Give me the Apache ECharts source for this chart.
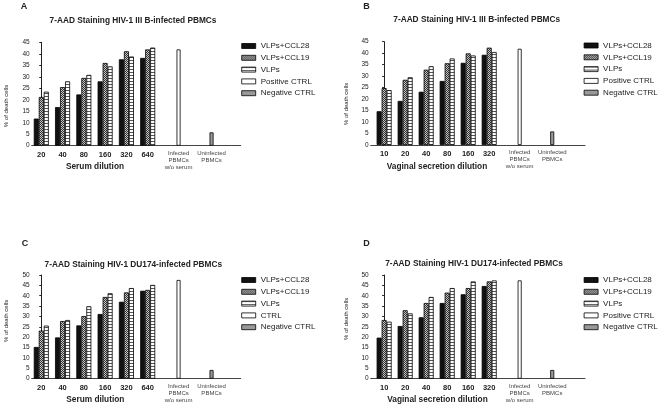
<!DOCTYPE html>
<html><head><meta charset="utf-8">
<script src="https://cdn.jsdelivr.net/npm/echarts@6/dist/echarts.min.js"></script>
<style>html,body{margin:0;padding:0;background:#fff}#c{width:661px;height:408px}</style>
</head><body><div id="c"></div>
<script>
// ---------- data ----------
const serumDilutions = ['20', '40', '80', '160', '320', '640'];
const vaginalDilutions = ['10', '20', '40', '80', '160', '320'];
const controlLabels = ['Infected\nPBMCs\nw/o serum', 'Uninfected\nPBMCs'];
const namesABD = ['VLPs+CCL28', 'VLPs+CCL19', 'VLPs', 'Positive CTRL', 'Negative CTRL'];
const namesC = ['VLPs+CCL28', 'VLPs+CCL19', 'VLPs', 'CTRL', 'Negative CTRL'];
const titleIIIB = '7-AAD Staining HIV-1 III B-infected PBMCs';
const titleDU174 = '7-AAD Staining HIV-1 DU174-infected PBMCs';
const xNameSerum = 'Serum dilution';
const xNameVaginal = 'Vaginal secretion dilution';
const yName = '% of death cells';

const aCCL28 = [11.8, 16.8, 22.3, 28.0, 37.6, 38.2];
const aCCL19 = [21.2, 25.5, 29.5, 36.0, 41.1, 41.9];
const aVLPs  = [23.5, 28.0, 30.8, 34.5, 38.8, 42.7];
const aPos = 41.9, aNeg = 5.8;

const bCCL28 = [14.7, 19.2, 23.2, 27.9, 35.8, 39.3];
const bCCL19 = [24.8, 28.4, 32.8, 35.6, 39.9, 42.4];
const bVLPs  = [23.9, 29.5, 34.3, 37.7, 39.0, 40.5];
const bPos = 41.9, bNeg = 5.9;

const cCCL28 = [15.3, 19.9, 25.7, 31.2, 37.1, 42.4];
const cCCL19 = [23.2, 27.8, 30.2, 39.4, 41.6, 42.8];
const cVLPs  = [25.6, 28.3, 34.9, 41.2, 43.7, 45.2];
const cPos = 47.6, cNeg = 4.2;

const dCCL28 = [19.8, 25.4, 29.6, 36.5, 40.7, 44.7];
const dCCL19 = [28.3, 33.0, 36.5, 41.5, 43.7, 46.9];
const dVLPs  = [27.5, 31.5, 39.4, 43.7, 46.9, 47.4];
const dPos = 47.4, dNeg = 4.2;

// ---------- layout / style ----------
const FONT = 'Liberation Sans, Arial, Helvetica, sans-serif';
const ctrlX = [6.45, 8.0];

function pattern(w, h, draw) {
  const c = document.createElement('canvas');
  c.width = w; c.height = h;
  draw(c.getContext('2d'));
  return { image: c, repeat: 'repeat' };
}
const checker = pattern(2, 2, ctx => {
  ctx.fillStyle = '#c8c8c8'; ctx.fillRect(0, 0, 2, 2);
  ctx.fillStyle = '#333'; ctx.fillRect(0, 0, 1, 1); ctx.fillRect(1, 1, 1, 1);
});
const stripes = pattern(1, 3, ctx => {
  ctx.fillStyle = '#fff'; ctx.fillRect(0, 0, 1, 3);
  ctx.fillStyle = '#555'; ctx.fillRect(0, 0, 1, 1);
});
const fills = ['#111', checker, stripes, '#fff', '#999'];

const panels = [
  { letter: 'A', title: titleIIIB, cats: serumDilutions, xName: xNameSerum, names: namesABD,
    vals: [aCCL28, aCCL19, aVLPs], pos: aPos, neg: aNeg, yMax: 45,
    grid: { left: 31.7, top: 42.3, width: 209, height: 103.4 }, xMin: -0.45, xMax: 9.37,
    legend: [241.3, 42], titleXY: [133, 21], letterXY: [20.7, 6.7], xNameXY: [95, 167],
    yGap: 22.5, yPad: [0, 24, 0, 0] },
  { letter: 'B', title: titleIIIB, cats: vaginalDilutions, xName: xNameVaginal, names: namesABD,
    vals: [bCCL28, bCCL19, bVLPs], pos: bPos, neg: bNeg, yMax: 45,
    grid: { left: 370.7, top: 41.7, width: 214.3, height: 103.3 }, xMin: -0.64, xMax: 9.56,
    legend: [583.7, 41.5], titleXY: [476.7, 20], letterXY: [363.3, 6.7], xNameXY: [437, 167],
    yGap: 21, yPad: [0, 21, 0, 0] },
  { letter: 'C', title: titleDU174, cats: serumDilutions, xName: xNameSerum, names: namesC,
    vals: [cCCL28, cCCL19, cVLPs], pos: cPos, neg: cNeg, yMax: 50,
    grid: { left: 31.7, top: 275, width: 209, height: 103.7 }, xMin: -0.45, xMax: 9.37,
    legend: [241.3, 276], titleXY: [133.3, 264.3], letterXY: [21.7, 243.3], xNameXY: [95.3, 400],
    yGap: 22.5, yPad: [0, 0, 0, 12] },
  { letter: 'D', title: titleDU174, cats: vaginalDilutions, xName: xNameVaginal, names: namesABD,
    vals: [dCCL28, dCCL19, dVLPs], pos: dPos, neg: dNeg, yMax: 50,
    grid: { left: 370.7, top: 275, width: 214.3, height: 103.7 }, xMin: -0.64, xMax: 9.56,
    legend: [583.7, 276], titleXY: [474, 264], letterXY: [363.3, 243.3], xNameXY: [437.5, 399.5],
    yGap: 21, yPad: [0, 0, 0, 16] }
];

const option = { animation: false, backgroundColor: '#fff', title: [], grid: [], xAxis: [], yAxis: [], legend: [], series: [] };

panels.forEach((p, pi) => {
  option.grid.push(Object.assign({}, p.grid));
  const tickVals = p.cats.map((c, i) => i).concat(ctrlX);
  option.xAxis.push({
    type: 'value', gridIndex: pi, min: p.xMin, max: p.xMax,
    axisLine: { show: true, onZero: false, lineStyle: { color: '#444', width: 1 } },
    axisTick: { show: false }, splitLine: { show: false },
    axisLabel: {
      customValues: tickVals, margin: 4, hideOverlap: false,
      formatter: function (v) {
        for (let i = 0; i < p.cats.length; i++) if (Math.abs(v - i) < 1e-6) return '{d|' + p.cats[i] + '}';
        for (let j = 0; j < ctrlX.length; j++) if (Math.abs(v - ctrlX[j]) < 1e-6)
          return controlLabels[j].split('\n').map(s => '{c|' + s + '}').join('\n');
        return '';
      },
      rich: {
        d: { fontSize: 7.5, fontWeight: 'bold', color: '#222', lineHeight: 10, fontFamily: FONT },
        c: { fontSize: 6, color: '#444', lineHeight: 7, fontFamily: FONT }
      }
    }
  });
  option.xAxis.push({ type: 'value', gridIndex: pi, min: p.xMin, max: p.xMax, show: false });
  option.xAxis.push({ type: 'value', gridIndex: pi, min: p.xMin, max: p.xMax, show: false });
  option.yAxis.push({
    type: 'value', gridIndex: pi, min: 0, max: p.yMax, interval: 5,
    axisLine: { show: true, lineStyle: { color: '#222', width: 1 } },
    axisTick: { show: true, length: 2, lineStyle: { color: '#222' } },
    splitLine: { show: false },
    axisLabel: { fontSize: 6.5, color: '#222', margin: 2, fontFamily: FONT },
    name: yName, nameLocation: 'middle', nameGap: p.yGap,
    nameTextStyle: { fontSize: 6, color: '#222', fontFamily: FONT, padding: p.yPad }
  });
  option.legend.push({
    data: p.names.slice(), orient: 'vertical', left: p.legend[0], top: p.legend[1], padding: 0,
    icon: 'rect', itemWidth: 14, itemHeight: 5, itemGap: 3.8, selectedMode: false,
    itemStyle: { borderWidth: 0.8, borderColor: '#000' },
    textStyle: { fontSize: 8, color: '#222', fontFamily: FONT, lineHeight: 8 }
  });
  const tstyle = (fs) => ({ fontSize: fs, fontWeight: 'bold', color: '#222', fontFamily: FONT });
  option.title.push({ text: p.letter, left: p.letterXY[0], top: p.letterXY[1], padding: 0,
    textAlign: 'left', textVerticalAlign: 'middle', textStyle: tstyle(9) });
  option.title.push({ text: p.title, left: p.titleXY[0], top: p.titleXY[1], padding: 0,
    textAlign: 'center', textVerticalAlign: 'middle', textStyle: tstyle(8.3) });
  option.title.push({ text: p.xName, left: p.xNameXY[0], top: p.xNameXY[1], padding: 0,
    textAlign: 'center', textVerticalAlign: 'middle', textStyle: tstyle(8.3) });

  const base = 3 * pi;
  p.vals.forEach((arr, si) => {
    option.series.push({
      type: 'bar', name: p.names[si], xAxisIndex: base, yAxisIndex: pi,
      data: arr.map((v, i) => [i, v]), barWidth: 5, barGap: '0%',
      itemStyle: { color: fills[si], borderColor: '#000', borderWidth: 0.8 },
      emphasis: { disabled: true }
    });
  });
  [p.pos, p.neg].forEach((v, k) => {
    option.series.push({
      type: 'bar', name: p.names[3 + k], xAxisIndex: base + 1 + k, yAxisIndex: pi,
      data: [[ctrlX[k], v]], barWidth: 4,
      itemStyle: { color: fills[3 + k], borderColor: '#000', borderWidth: 0.8 },
      emphasis: { disabled: true }
    });
  });
});

const chart = echarts.init(document.getElementById('c'), null, { renderer: 'canvas' });
chart.setOption(option);
</script></body></html>
